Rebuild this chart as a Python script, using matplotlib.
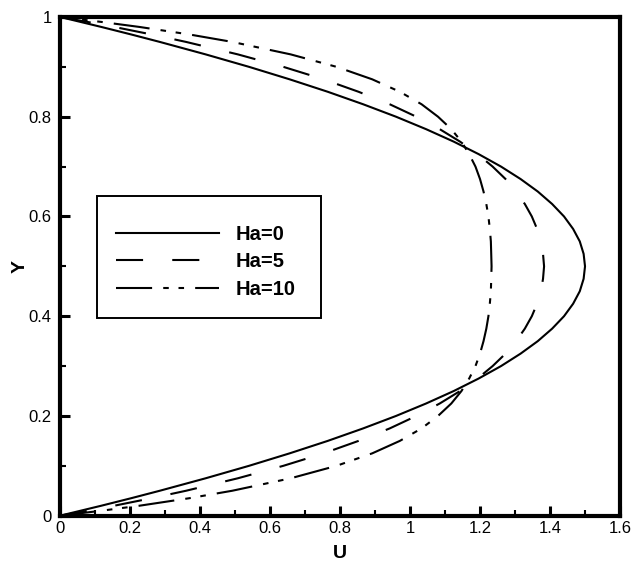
import matplotlib
matplotlib.use('Agg')
import matplotlib.pyplot as plt
from matplotlib.ticker import MultipleLocator
from matplotlib.patches import Rectangle

plt.rcParams['font.family'] = ['Liberation Sans', 'DejaVu Sans']
plt.rcParams['lines.scale_dashes'] = False

# velocity profiles across the channel, Y from wall to wall
y_vals = [0, 0.01, 0.02, 0.035, 0.05, 0.075, 0.1, 0.125, 0.15, 0.175, 0.2, 0.225, 0.25, 0.275,
          0.3, 0.325, 0.35, 0.375, 0.4, 0.425, 0.45, 0.475, 0.5,
          0.525, 0.55, 0.575, 0.6, 0.625, 0.65, 0.675, 0.7, 0.725, 0.75, 0.775, 0.8, 0.825,
          0.85, 0.875, 0.9, 0.925, 0.95, 0.965, 0.98, 0.99, 1]
u_ha0 = [0, 0.059, 0.118, 0.203, 0.285, 0.416, 0.54, 0.656, 0.765, 0.866, 0.96, 1.046, 1.125, 1.196,
         1.26, 1.316, 1.365, 1.406, 1.44, 1.466, 1.485, 1.496, 1.5,
         1.496, 1.485, 1.466, 1.44, 1.406, 1.365, 1.316, 1.26, 1.196, 1.125, 1.046, 0.96, 0.866,
         0.765, 0.656, 0.54, 0.416, 0.285, 0.203, 0.118, 0.059, 0]
u_ha5 = [0, 0.079, 0.155, 0.261, 0.36, 0.508, 0.638, 0.753, 0.853, 0.942, 1.018, 1.085, 1.143, 1.193,
         1.236, 1.273, 1.303, 1.328, 1.348, 1.363, 1.374, 1.38, 1.383,
         1.38, 1.374, 1.363, 1.348, 1.328, 1.303, 1.273, 1.236, 1.193, 1.143, 1.085, 1.018, 0.942,
         0.853, 0.753, 0.638, 0.508, 0.36, 0.261, 0.155, 0.079, 0]
u_ha10 = [0, 0.119, 0.227, 0.369, 0.492, 0.659, 0.79, 0.892, 0.971, 1.033, 1.08, 1.118, 1.147, 1.169,
          1.187, 1.2, 1.21, 1.218, 1.224, 1.228, 1.231, 1.232, 1.233,
          1.232, 1.231, 1.228, 1.224, 1.218, 1.21, 1.2, 1.187, 1.169, 1.147, 1.118, 1.08, 1.033,
          0.971, 0.892, 0.79, 0.659, 0.492, 0.369, 0.227, 0.119, 0]

fig = plt.figure(figsize=(6.33, 5.62), dpi=100)
ax = fig.add_axes([0.0948, 0.0824, 0.8847, 0.8874])

ax.plot(u_ha0, y_vals, color='black', lw=1.5, label='Ha=0')
ax.plot(u_ha5, y_vals, color='black', lw=1.5, dashes=(19.5, 21), label='Ha=5')
ax.plot(u_ha10, y_vals, color='black', lw=1.5, dashes=(26, 8, 4, 7, 4, 8), label='Ha=10')

ax.set_xlim(0, 1.6)
ax.set_ylim(0, 1)
ax.xaxis.set_major_locator(MultipleLocator(0.2))
ax.xaxis.set_minor_locator(MultipleLocator(0.1))
ax.yaxis.set_major_locator(MultipleLocator(0.2))
ax.yaxis.set_minor_locator(MultipleLocator(0.1))
ax.xaxis.set_major_formatter(plt.FuncFormatter(lambda v, p: f'{v:g}'))
ax.yaxis.set_major_formatter(plt.FuncFormatter(lambda v, p: f'{v:g}'))
ax.tick_params(which='both', direction='in', top=False, right=False, labelsize=12)
ax.tick_params(which='major', length=7, width=2.2, pad=4)
ax.tick_params(which='minor', length=4, width=1.5)
ax.tick_params(axis='y', which='major', pad=6)
for s in ax.spines.values():
    s.set_linewidth(3)

ax.set_xlabel('U', fontsize=14, fontweight='bold', labelpad=6)
ax.set_ylabel('Y', fontsize=14, fontweight='bold', labelpad=0)

# legend entries without frame, the box is drawn separately so it can sit off-centre
ax.legend(loc='upper left', bbox_to_anchor=(0.1, 0.583), frameon=False,
          handlelength=5.1, handletextpad=0.85, borderpad=0, borderaxespad=0,
          labelspacing=0.42, prop={'size': 14.5, 'weight': 'bold'})
ax.add_patch(Rectangle((0.066, 0.3956), 0.4, 0.2451, transform=ax.transAxes,
                       fill=False, edgecolor='black', lw=1.4, zorder=5))

fig.savefig('out.png', dpi=100)
